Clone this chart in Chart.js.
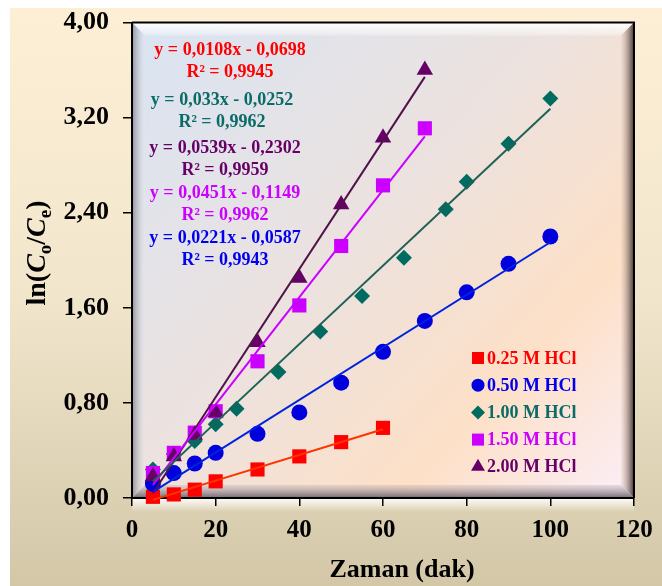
<!DOCTYPE html>
<html>
<head>
<meta charset="utf-8" />
<script src="https://cdn.jsdelivr.net/npm/chart.js@4.4.1/dist/chart.umd.min.js"></script>
<style>
  body { margin:0; background:#fff; }
  #wrap { width:662px; height:586px; }
</style>
</head>
<body>
<div id="wrap"><canvas id="kinetics" width="662" height="586"></canvas></div>
<script>
// ln(Co/Ce) vs time for each HCl concentration
const seriesNames = ['0.25 M HCl', '0.50 M HCl', '1.00 M HCl', '1.50 M HCl', '2.00 M HCl'];

const timeHCl025 = [5, 10, 15, 20, 30, 40, 50, 60];
const lnHCl025   = [0.01, 0.03, 0.07, 0.14, 0.24, 0.35, 0.47, 0.59];

const timeHCl050 = [5, 10, 15, 20, 30, 40, 50, 60, 70, 80, 90, 100];
const lnHCl050   = [0.12, 0.21, 0.29, 0.38, 0.54, 0.72, 0.97, 1.23, 1.49, 1.73, 1.97, 2.20];

const timeHCl100 = [5, 10, 15, 20, 25, 35, 45, 55, 65, 75, 80, 90, 100];
const lnHCl100   = [0.24, 0.37, 0.48, 0.62, 0.75, 1.06, 1.40, 1.70, 2.02, 2.43, 2.66, 2.98, 3.36];

const timeHCl150 = [5, 10, 15, 20, 30, 40, 50, 60, 70];
const lnHCl150   = [0.21, 0.38, 0.55, 0.73, 1.15, 1.62, 2.12, 2.63, 3.11];

const timeHCl200 = [5, 10, 15, 20, 30, 40, 50, 60, 70];
const lnHCl200   = [0.18, 0.35, 0.53, 0.72, 1.31, 1.85, 2.47, 3.03, 3.60];

// linear fits (y = a*x + b)
const slopes     = [0.0108, 0.0221, 0.033, 0.0451, 0.0539];
const intercepts = [-0.0698, -0.0587, -0.0252, -0.1149, -0.2302];
const rSquared   = [0.9945, 0.9943, 0.9962, 0.9962, 0.9959];

const xTicks = [0, 20, 40, 60, 80, 100, 120];
const yTicks = [0, 0.8, 1.6, 2.4, 3.2, 4.0];

const times = [timeHCl025, timeHCl050, timeHCl100, timeHCl150, timeHCl200];
const values = [lnHCl025, lnHCl050, lnHCl100, lnHCl150, lnHCl200];

const markerColors = ['#ff0000', '#0000dd', '#006b60', '#cc00ff', '#660066'];
const lineColors   = ['#ff3300', '#0022dd', '#1f6157', '#cc00ff', '#4f1249'];
const textColors   = ['#ff0000', '#0000ee', '#0b6b66', '#cc00ff', '#660066'];
const pointStyles  = ['rect', 'circle', 'rectRot', 'rect', 'triangle'];
const pointSizes   = [10, 8, 8, 10, 9.5];

const SERIF = '"Liberation Serif", "Times New Roman", serif';

const fmt = v => v.toString().replace('.', ',');

const datasets = [];
// trend lines on top of the markers
times.forEach((t, i) => {
  const x0 = t[0], x1 = t[t.length - 1];
  datasets.push({
    label: seriesNames[i] + ' fit',
    data: [{ x: x0, y: slopes[i] * x0 + intercepts[i] }, { x: x1, y: slopes[i] * x1 + intercepts[i] }],
    showLine: true, pointRadius: 0, borderColor: lineColors[i], borderWidth: 2,
    order: i, clip: false
  });
});
times.forEach((t, i) => {
  datasets.push({
    label: seriesNames[i],
    data: t.map((x, k) => ({ x: x, y: values[i][k] })),
    showLine: false, pointStyle: pointStyles[i], pointRadius: pointSizes[i],
    pointBackgroundColor: markerColors[i], pointBorderWidth: 0, borderColor: markerColors[i],
    order: 10 - i, clip: false
  });
});

// backdrop, beveled plot frame, texts
const framePlugin = {
  id: 'frame',
  beforeDraw(chart) {
    const ctx = chart.ctx, ca = chart.chartArea;
    const L = ca.left, T = ca.top, R = ca.right, B = ca.bottom;
    ctx.save();
    ctx.fillStyle = '#ffffff';
    ctx.fillRect(0, 0, chart.width, chart.height);
    let g = ctx.createLinearGradient(0, 8, 0, chart.height);
    g.addColorStop(0, '#fdefd5');
    g.addColorStop(0.5, '#f1e6cc');
    g.addColorStop(1, '#d3c7a8');
    ctx.fillStyle = g;
    ctx.fillRect(10, 8, chart.width - 10, chart.height - 8);

    // soft light band below the plot
    g = ctx.createLinearGradient(0, B, 0, B + 14);
    g.addColorStop(0, 'rgba(255,255,255,0.95)');
    g.addColorStop(1, 'rgba(255,255,255,0)');
    ctx.fillStyle = g;
    ctx.fillRect(L, B, R - L, 14);

    // plot area gradient
    g = ctx.createLinearGradient(L, T, R, B);
    g.addColorStop(0, '#d9e4f3');
    g.addColorStop(0.45, '#ece2df');
    g.addColorStop(0.75, '#fde0c7');
    g.addColorStop(1, '#fbeef8');
    ctx.fillStyle = g;
    ctx.fillRect(L, T, R - L, B - T);

    const w = 13;
    const poly = (pts, fill) => {
      ctx.beginPath();
      ctx.moveTo(pts[0][0], pts[0][1]);
      for (let k = 1; k < pts.length; k++) ctx.lineTo(pts[k][0], pts[k][1]);
      ctx.closePath();
      ctx.fillStyle = fill;
      ctx.fill();
    };
    g = ctx.createLinearGradient(0, T, 0, T + w);
    g.addColorStop(0, 'rgba(255,255,255,1)');
    g.addColorStop(1, 'rgba(255,255,255,0.25)');
    poly([[L, T], [R, T], [R - w, T + w], [L + w, T + w]], g);
    g = ctx.createLinearGradient(R - w, 0, R, 0);
    g.addColorStop(0, 'rgba(230,205,190,0.3)');
    g.addColorStop(1, 'rgba(60,45,40,0.95)');
    poly([[R, T], [R, B], [R - w, B - w], [R - w, T + w]], g);
    g = ctx.createLinearGradient(0, B - w, 0, B);
    g.addColorStop(0, 'rgba(170,160,170,0.25)');
    g.addColorStop(1, 'rgba(100,90,100,0.9)');
    poly([[L, B], [R, B], [R - w, B - w], [L + w, B - w]], g);
    g = ctx.createLinearGradient(L, 0, L + w, 0);
    g.addColorStop(0, 'rgba(110,110,120,0.7)');
    g.addColorStop(1, 'rgba(235,238,245,0.2)');
    poly([[L, T], [L, B], [L + w, B - w], [L + w, T + w]], g);
    ctx.restore();
  },
  beforeDatasetsDraw(chart) {
    const ctx = chart.ctx, ca = chart.chartArea;
    ctx.save();
    ctx.strokeStyle = '#000';
    ctx.lineWidth = 2;
    ctx.beginPath();
    ctx.moveTo(ca.left, ca.top);
    ctx.lineTo(ca.right, ca.top);
    ctx.lineTo(ca.right, ca.bottom);
    ctx.stroke();
    ctx.restore();
  },
  afterDraw(chart) {
    const ctx = chart.ctx;
    ctx.save();

    // fit equations, stacked as in the workbook
    const eqOrder = [0, 2, 4, 3, 1];
    const eqX = [230, 222, 225, 225, 225];
    const eqY = [50, 100, 148, 193, 238];
    ctx.font = 'bold 18px ' + SERIF;
    ctx.textAlign = 'center';
    ctx.textBaseline = 'middle';
    eqOrder.forEach((s, k) => {
      const b = intercepts[s];
      const eq = 'y = ' + fmt(slopes[s]) + 'x ' + (b < 0 ? '- ' : '+ ') + fmt(Math.abs(b));
      ctx.fillStyle = textColors[s];
      ctx.fillText(eq, eqX[k], eqY[k]);
      ctx.fillText('R² = ' + fmt(rSquared[s]), eqX[k], eqY[k] + 22);
    });

    // legend inside the plot
    const lx = 478, ly0 = 358, lstep = 27.2;
    const legSizes = [8.5, 6.5, 7, 8.5, 8];
    seriesNames.forEach((name, i) => {
      const y = ly0 + i * lstep;
      ctx.fillStyle = markerColors[i];
      Chart.helpers.drawPoint(ctx, { pointStyle: pointStyles[i], radius: legSizes[i], borderWidth: 0, rotation: 0 }, lx, y);
      ctx.fillStyle = textColors[i];
      ctx.font = 'bold 18px ' + SERIF;
      ctx.textAlign = 'left';
      ctx.fillText(name, lx + 9, y + 1);
    });

    // axis titles
    ctx.fillStyle = '#000';
    ctx.font = 'bold 26px ' + SERIF;
    ctx.textAlign = 'center';
    ctx.textBaseline = 'middle';
    ctx.fillText('Zaman (dak)', 402, 570);

    // ln(Co/Ce) with italic C and subscripts, rotated
    const big = 28, small = 19;
    const parts = [
      ['ln(', 'bold ' + big + 'px ' + SERIF, 0],
      ['C', 'italic bold ' + big + 'px ' + SERIF, 0],
      ['o', 'bold ' + small + 'px ' + SERIF, 6],
      ['/', 'bold ' + big + 'px ' + SERIF, 0],
      ['C', 'italic bold ' + big + 'px ' + SERIF, 0],
      ['e', 'bold ' + small + 'px ' + SERIF, 6],
      [')', 'bold ' + big + 'px ' + SERIF, 0]
    ];
    let total = 0;
    parts.forEach(p => { ctx.font = p[1]; total += ctx.measureText(p[0]).width; });
    ctx.translate(45, 253);
    ctx.rotate(-Math.PI / 2);
    ctx.textAlign = 'left';
    ctx.textBaseline = 'alphabetic';
    let px = -total / 2;
    parts.forEach(p => {
      ctx.font = p[1];
      ctx.fillText(p[0], px, p[2]);
      px += ctx.measureText(p[0]).width;
    });
    ctx.restore();
  }
};

new Chart(document.getElementById('kinetics'), {
  type: 'scatter',
  data: { datasets: datasets },
  options: {
    responsive: false,
    animation: false,
    layout: { padding: { left: 10, top: 22.5, right: 28, bottom: 0 } },
    plugins: { legend: { display: false }, tooltip: { enabled: false } },
    scales: {
      x: {
        type: 'linear', min: 0, max: 120,
        afterBuildTicks: s => { s.ticks = xTicks.map(v => ({ value: v })); },
        afterFit: s => { s.height = 88; s.paddingLeft = 0; s.paddingRight = 0; },
        ticks: { color: '#000', padding: 10, font: { family: SERIF, size: 25, weight: 'bold' } },
        grid: { drawOnChartArea: false, drawTicks: true, tickLength: 8, color: '#000', lineWidth: 1.5 },
        border: { display: true, color: '#000', width: 2 },
        title: { display: false }
      },
      y: {
        type: 'linear', min: 0, max: 4,
        afterBuildTicks: s => { s.ticks = yTicks.map(v => ({ value: v })); },
        afterFit: s => { s.width = 122; s.paddingTop = 0; s.paddingBottom = 0; },
        ticks: {
          color: '#000', padding: 14, font: { family: SERIF, size: 26, weight: 'bold' },
          callback: v => v.toFixed(2).replace('.', ',')
        },
        grid: { drawOnChartArea: false, drawTicks: true, tickLength: 9, color: '#000', lineWidth: 1.5 },
        border: { display: true, color: '#000', width: 2 },
        title: { display: false }
      }
    }
  },
  plugins: [framePlugin]
});
</script>
</body>
</html>
